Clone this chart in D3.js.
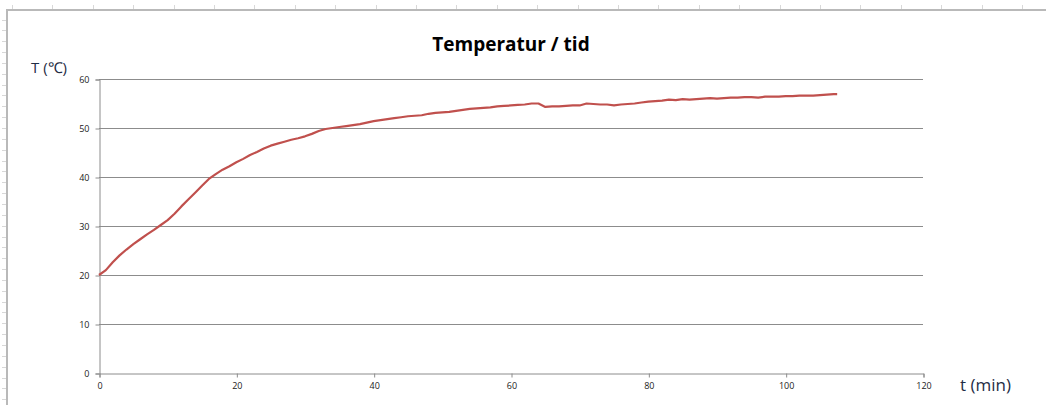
<!DOCTYPE html>
<html lang="no">

<head>
  <meta charset="utf-8">
  <title> Temperatur / tid </title>
  <script src="https://d3js.org/d3.v7.min.js"></script>
  <style>
    body {
      margin: 0;
      background: #fff;
      font-family: "Open Sans", sans-serif;
    }

    .tick text {
      font-size: 9px;
      fill: #222;
    }
  </style>
</head>

<body>
  <script>
    // measured time (min) and temperature (degC)
    var times = d3.range(0, 108, 1).concat([107.5]);
    var temps = [
      20.0, 21.0, 22.6, 24.0, 25.2, 26.3, 27.3, 28.3, 29.2, 30.2,
      31.2, 32.5, 34.0, 35.4, 36.8, 38.2, 39.6, 40.6, 41.5, 42.2,
      43.0, 43.7, 44.5, 45.1, 45.8, 46.4, 46.8, 47.2, 47.6, 47.9,
      48.3, 48.8, 49.4, 49.8, 50.0, 50.2, 50.4, 50.6, 50.8, 51.1,
      51.4, 51.6, 51.8, 52.0, 52.2, 52.4, 52.5, 52.6, 52.9, 53.1,
      53.2, 53.3, 53.5, 53.7, 53.9, 54.0, 54.1, 54.2, 54.4, 54.5,
      54.6, 54.7, 54.8, 55.0, 55.0, 54.3, 54.4, 54.4, 54.5, 54.6,
      54.6, 55.0, 54.9, 54.8, 54.8, 54.6, 54.8, 54.9, 55.0, 55.2,
      55.4, 55.5, 55.6, 55.8, 55.7, 55.9, 55.8, 55.9, 56.0, 56.1,
      56.0, 56.1, 56.2, 56.2, 56.3, 56.3, 56.2, 56.4, 56.4, 56.4,
      56.5, 56.5, 56.6, 56.6, 56.6, 56.7, 56.8, 56.9, 56.9
    ];
    var xTicks = [0, 20, 40, 60, 80, 100, 120];
    var yTicks = [0, 10, 20, 30, 40, 50, 60];

    var data = times.map(function(t, i) {
      return { t: t, v: temps[i] };
    });

    var width = 1046, height = 405;

    var svg = d3.select("body")
      .append("svg")
      .attr("width", width)
      .attr("height", height);

    // worksheet frame / ruler decoration
    var frame = svg.append("g").attr("stroke", "#b9b9b9");
    frame.append("line")
      .attr("x1", 6).attr("x2", width)
      .attr("y1", 10).attr("y2", 10)
      .attr("stroke-width", 2);
    frame.append("line")
      .attr("x1", 7).attr("x2", 7)
      .attr("y1", 10).attr("y2", height)
      .attr("stroke-width", 2);
    frame.selectAll(".rx")
      .data(d3.range(12, width, 40.4))
      .enter().append("line")
      .attr("stroke", "#d8d8d8")
      .attr("x1", function(d) { return Math.round(d) + 0.5; })
      .attr("x2", function(d) { return Math.round(d) + 0.5; })
      .attr("y1", 5).attr("y2", 9);
    frame.selectAll(".ry")
      .data(d3.range(19.5, height, 10.85))
      .enter().append("line")
      .attr("stroke", "#d8d8d8")
      .attr("y1", function(d) { return Math.round(d) + 0.5; })
      .attr("y2", function(d) { return Math.round(d) + 0.5; })
      .attr("x1", 2).attr("x2", 6);

    // scales
    var x = d3.scaleLinear().domain([0, 120]).range([99, 923]);
    var y = d3.scaleLinear().domain([0, 60]).range([373, 79]);

    // gridlines
    svg.append("g")
      .selectAll("line")
      .data(yTicks.slice(1))
      .enter().append("line")
      .attr("x1", x(0)).attr("x2", x(120))
      .attr("y1", function(d) { return Math.round(y(d)) + 0.5; })
      .attr("y2", function(d) { return Math.round(y(d)) + 0.5; })
      .attr("stroke", "#8c8c8c");

    // axes
    var yAxis = svg.append("g")
      .attr("transform", "translate(" + (x(0) + 0.5) + ",0.5)")
      .call(d3.axisLeft(y).tickValues(yTicks).tickSize(4).tickPadding(6));
    var xAxis = svg.append("g")
      .attr("transform", "translate(0.5," + (y(0) + 0.5) + ")")
      .call(d3.axisBottom(x).tickValues(xTicks).tickSize(4).tickPadding(5));
    [xAxis, yAxis].forEach(function(a) {
      a.select(".domain").attr("stroke", "#8c8c8c");
      a.selectAll(".tick line").attr("stroke", "#8c8c8c");
      a.selectAll(".tick text").style("font-family", "'Open Sans', sans-serif");
    });

    // temperature line
    var line = d3.line()
      .x(function(d) { return x(d.t); })
      .y(function(d) { return y(d.v); });

    svg.append("path")
      .datum(data)
      .attr("fill", "none")
      .attr("stroke", "#c0504d")
      .attr("stroke-width", 2.2)
      .attr("stroke-linejoin", "round")
      .attr("d", line);

    // title and axis labels
    svg.append("text")
      .attr("x", 511).attr("y", 51)
      .attr("text-anchor", "middle")
      .style("font-size", "19px")
      .style("font-weight", "bold")
      .attr("fill", "#000")
      .text("Temperatur / tid");

    svg.append("text")
      .attr("x", 31).attr("y", 73)
      .style("font-size", "15px")
      .attr("fill", "#1f2d45")
      .text("T (℃)");

    svg.append("text")
      .attr("x", 960).attr("y", 391)
      .style("font-size", "17px")
      .attr("fill", "#1f2d45")
      .text("t (min)");
  </script>
</body>

</html>
